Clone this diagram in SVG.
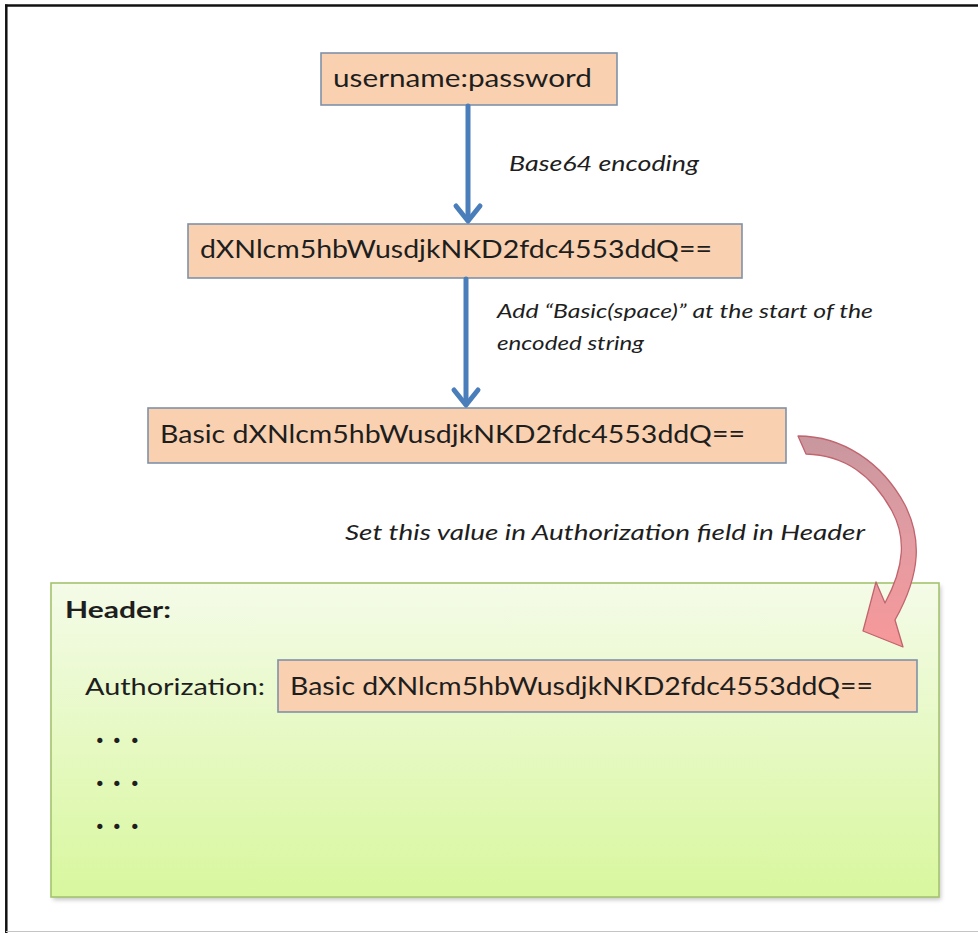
<svg xmlns="http://www.w3.org/2000/svg" width="978" height="933" viewBox="0 0 978 933">
  <defs>
    <linearGradient id="hdrGrad" x1="0" y1="0" x2="0" y2="1">
      <stop offset="0" stop-color="#f4fbe8"/>
      <stop offset="1" stop-color="#d8f79e"/>
    </linearGradient>
    <linearGradient id="curveGrad" x1="0" y1="0" x2="0" y2="1">
      <stop offset="0" stop-color="#c8979f"/>
      <stop offset="0.5" stop-color="#e39ca2"/>
      <stop offset="1" stop-color="#f7989a"/>
    </linearGradient>
    <filter id="shadow" x="-5%" y="-5%" width="110%" height="110%">
      <feGaussianBlur stdDeviation="2"/>
    </filter>
  </defs>
  <style>
    .box { fill: #fad1b0; stroke: #7f91a8; stroke-width: 1.6; }
    .txt { font-family: Lato, "Open Sans", "Noto Sans", sans-serif; fill: #1e1e1e; }
    .val { font-size: 25px; }
    .lbl { font-size: 21px; font-style: italic; }
    .dots { font-size: 32px; font-weight: 900; }
    .conn { stroke: #4a7ebb; stroke-width: 5; fill: none; stroke-linecap: round; stroke-linejoin: round; }
  </style>

  <rect x="0" y="0" width="978" height="933" fill="#ffffff"/>
  <!-- frame -->
  <line x1="5" y1="5.5" x2="978" y2="5.5" stroke="#111" stroke-width="2.5"/>
  <line x1="6.3" y1="4.5" x2="6.3" y2="933" stroke="#111" stroke-width="2.5"/>
  <line x1="6" y1="931.5" x2="978" y2="931.5" stroke="#c4c4c4" stroke-width="1"/>

  <g id="label-base64">
    <text class="txt lbl" x="509" y="171" textLength="190" lengthAdjust="spacingAndGlyphs">Base64 encoding</text>
  </g>
  <g id="label-add-basic">
    <text class="txt lbl" x="497" y="318" style="font-size:19px" textLength="376" lengthAdjust="spacingAndGlyphs">Add “Basic(space)” at the start of the</text>
    <text class="txt lbl" x="497" y="350" style="font-size:19px" textLength="147" lengthAdjust="spacingAndGlyphs">encoded string</text>
  </g>
  <g id="label-set-header">
    <text class="txt lbl" x="345" y="540" textLength="520" lengthAdjust="spacingAndGlyphs">Set this value  in Authorization  field in Header</text>
  </g>

  <g id="node-userpass">
    <rect class="box" x="321" y="53" width="296" height="52"/>
    <text class="txt val" x="333" y="87" textLength="259" lengthAdjust="spacingAndGlyphs">username:password</text>
  </g>

  <g id="node-encoded">
    <rect class="box" x="188" y="224" width="554" height="54"/>
    <text class="txt val" x="200" y="258" textLength="512" lengthAdjust="spacingAndGlyphs">dXNlcm5hbWusdjkNKD2fdc4553ddQ==</text>
  </g>

  <g id="node-basic">
    <rect class="box" x="148" y="408" width="638" height="55"/>
    <text class="txt val" x="160" y="443" textLength="585" lengthAdjust="spacingAndGlyphs">Basic dXNlcm5hbWusdjkNKD2fdc4553ddQ==</text>
  </g>

  <g id="node-header">
    <rect x="53" y="586" width="888" height="314" fill="#9a9a9a" opacity="0.55" filter="url(#shadow)"/>
    <rect x="51" y="583" width="888" height="314" fill="url(#hdrGrad)" stroke="#a4c46e" stroke-width="1.6"/>
    <text class="txt" x="65" y="618" style="font-size:22px;font-weight:bold" textLength="106" lengthAdjust="spacingAndGlyphs">Header:</text>
    <text class="txt" x="85" y="695" style="font-size:24px" textLength="180" lengthAdjust="spacingAndGlyphs">Authorization:</text>
    <g id="node-auth-value">
      <rect class="box" x="278" y="660" width="639" height="52"/>
      <text class="txt val" x="290" y="695" textLength="583" lengthAdjust="spacingAndGlyphs">Basic dXNlcm5hbWusdjkNKD2fdc4553ddQ==</text>
    </g>
    <text class="txt dots" x="96 113 131" y="742.5">...</text>
    <text class="txt dots" x="96 113 131" y="785.5">...</text>
    <text class="txt dots" x="96 113 131" y="828.5">...</text>
  </g>

  <g id="connectors">
    <line class="conn" x1="468" y1="106" x2="468" y2="220"/>
    <polyline class="conn" points="456,206 468,221 480,206"/>
    <line class="conn" x1="466" y1="279" x2="466" y2="404"/>
    <polyline class="conn" points="454,390 466,405 478,390"/>
    <path id="curved-arrow" d="M 798 436 C 842 436, 882 462, 905 505 C 921 537, 922 572, 895 620 L 903 647 L 863 631 L 876 582 L 885 603 C 905 566, 906 537, 892 511 C 872 475, 845 455, 806 454 Z" fill="url(#curveGrad)" stroke="#c0646e" stroke-width="1.3" stroke-linejoin="round"/>
  </g>
</svg>
